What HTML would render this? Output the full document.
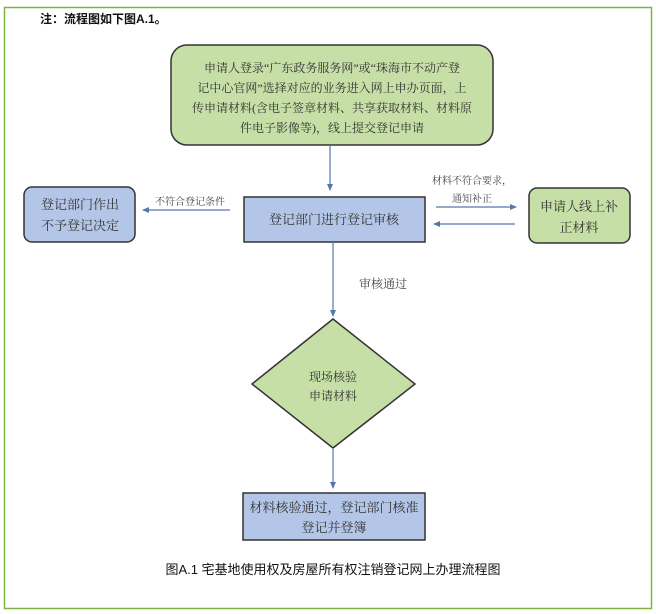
<!DOCTYPE html>
<html><head><meta charset="utf-8"><style>
body{margin:0;width:656px;height:614px;background:#fff;font-family:"Liberation Sans","Noto Sans CJK SC",sans-serif;}
</style></head><body>
<svg width="656" height="614" xmlns="http://www.w3.org/2000/svg" style="position:absolute;left:0;top:0">
<defs><marker id="a" markerWidth="8" markerHeight="8" refX="6" refY="4" orient="auto" markerUnits="userSpaceOnUse"><path d="M0,1 L7,4 L0,7 Z" fill="#5577aa"/></marker></defs>
<rect x="4.5" y="7.5" width="647" height="601" fill="none" stroke="#7cb342" stroke-width="1.5"/>
<text x="40" y="23" font-size="12" font-weight="bold" fill="#111" font-family="Liberation Sans,Noto Sans CJK SC,sans-serif">注：流程图如下图A.1。</text>
<rect x="171" y="45" width="322" height="100" rx="16" fill="#c5dfa6" stroke="#333" stroke-width="1.5"/>
<g font-size="12" fill="#333" text-anchor="middle" font-family="Liberation Serif,Noto Serif CJK SC,serif">
<text x="332" y="72">申请人登录“广东政务服务网”或“珠海市不动产登</text>
<text x="332" y="92">记中心官网”选择对应的业务进入网上申办页面，上</text>
<text x="332" y="112">传申请材料(含电子签章材料、共享获取材料、材料原</text>
<text x="332" y="132">件电子影像等)，线上提交登记申请</text>
</g>
<line x1="330" y1="145" x2="330" y2="190" stroke="#5577aa" stroke-width="1.2" marker-end="url(#a)"/>
<rect x="244" y="197" width="181" height="45" fill="#b4c6e7" stroke="#333" stroke-width="1.5"/>
<text x="334" y="224" font-size="13" fill="#333" text-anchor="middle" font-family="Liberation Serif,Noto Serif CJK SC,serif">登记部门进行登记审核</text>
<rect x="24" y="187" width="111" height="55" rx="8" fill="#b4c6e7" stroke="#333" stroke-width="1.5"/>
<rect x="529" y="188" width="101" height="55" rx="8" fill="#c5dfa6" stroke="#333" stroke-width="1.5"/>
<g font-size="13" fill="#333" text-anchor="middle" font-family="Liberation Serif,Noto Serif CJK SC,serif">
<text x="80" y="209">登记部门作出</text><text x="80" y="230">不予登记决定</text>
<text x="579" y="211">申请人线上补</text><text x="579" y="232">正材料</text>
</g>
<g font-size="10" fill="#444" text-anchor="middle" font-family="Liberation Serif,Noto Serif CJK SC,serif">
<text x="190" y="205">不符合登记条件</text>
<text x="472" y="184">材料不符合要求，</text>
<text x="472" y="202">通知补正</text>
</g>
<line x1="230" y1="210" x2="143" y2="210" stroke="#5577aa" stroke-width="1.2" marker-end="url(#a)"/>
<line x1="436" y1="207" x2="516" y2="207" stroke="#5577aa" stroke-width="1.2" marker-end="url(#a)"/>
<line x1="515" y1="224" x2="434" y2="224" stroke="#5577aa" stroke-width="1.2" marker-end="url(#a)"/>
<line x1="333" y1="242" x2="333" y2="316" stroke="#5577aa" stroke-width="1.2" marker-end="url(#a)"/>
<text x="383" y="288" font-size="12" fill="#444" text-anchor="middle" font-family="Liberation Serif,Noto Serif CJK SC,serif">审核通过</text>
<polygon points="333,319 415,384 333,448 252,384" fill="#c5dfa6" stroke="#333" stroke-width="1.5"/>
<g font-size="12" fill="#333" text-anchor="middle" font-family="Liberation Serif,Noto Serif CJK SC,serif">
<text x="333" y="381">现场核验</text><text x="333" y="400">申请材料</text>
</g>
<line x1="333" y1="448" x2="333" y2="488" stroke="#5577aa" stroke-width="1.2" marker-end="url(#a)"/>
<rect x="243" y="493" width="182" height="47" fill="#b4c6e7" stroke="#333" stroke-width="1.5"/>
<g font-size="13" fill="#333" text-anchor="middle" font-family="Liberation Serif,Noto Serif CJK SC,serif">
<text x="334" y="512">材料核验通过，登记部门核准</text><text x="334" y="532">登记并登簿</text>
</g>
<text x="333" y="574" font-size="13" fill="#111" text-anchor="middle" font-family="Liberation Sans,Noto Sans CJK SC,sans-serif">图A.1 宅基地使用权及房屋所有权注销登记网上办理流程图</text>
</svg>
</body></html>
